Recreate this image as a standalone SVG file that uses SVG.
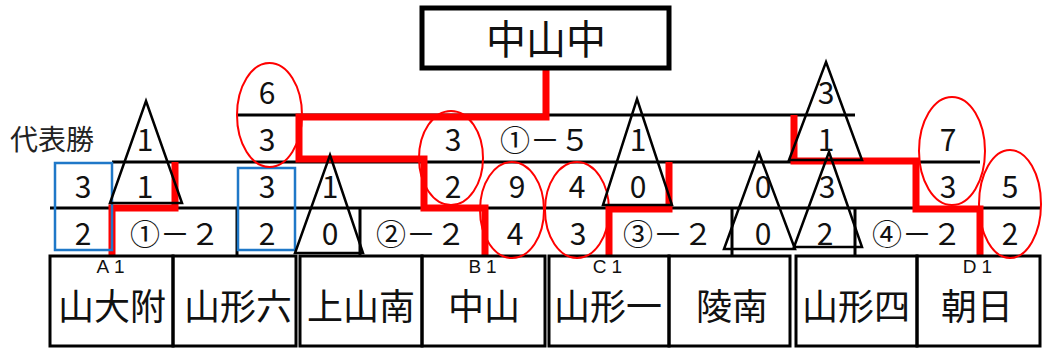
<svg xmlns="http://www.w3.org/2000/svg" width="1043" height="349" viewBox="0 0 1043 349">
<style>
text{font-family:"Noto Sans CJK JP","Liberation Sans",sans-serif;fill:#111;text-anchor:middle}
.n{font-size:30px}
.t{font-size:36px}
.s{font-family:"Liberation Sans",sans-serif;font-size:19px;letter-spacing:5px}
.box{fill:none;stroke:#000;stroke-width:3}
.ln{stroke:#000;stroke-width:3;fill:none}
.red{stroke:#f00;stroke-width:7;fill:none;stroke-linejoin:miter}
.ov{fill:none;stroke:#f00;stroke-width:2}
.tri{fill:none;stroke:#000;stroke-width:2.5;stroke-linejoin:miter}
.bl{fill:none;stroke:#1f78c8;stroke-width:2.5}
</style>
<rect width="1043" height="349" fill="#fff"/>
<g id="connectors">
<path class="ln" d="M238 115H855M112 162H980M50 208H1040M237 208V256M360 208V256M732 208V256M855 208V256"/>
<path class="red" d="M112 256V208H175V162"/>
<path class="red" d="M485 256V208H424V159H299V117H546V68"/>
<path class="red" d="M609 256V209H669V162"/>
<path class="red" d="M980 256V209H916V161H794V115"/>
</g>
<g id="champion">
<rect x="422" y="8" width="247" height="60" fill="none" stroke="#000" stroke-width="5"/>
<text x="546" y="54" style="font-size:40px">中山中</text>
</g>
<g id="label"><text x="52" y="150" style="font-size:28px;fill:#222">代表勝</text></g>
<g id="team-A1"><rect class="box" x="50" y="256" width="123" height="90"/><text class="s" x="113" y="273">A1</text><text class="t" x="112" y="320">山大附</text></g>
<g id="team-2"><rect class="box" x="173" y="256" width="123" height="90"/><text class="t" x="238" y="320">山形六</text></g>
<g id="team-3"><rect class="box" x="300" y="256" width="122" height="90"/><text class="t" x="361" y="320">上山南</text></g>
<g id="team-B1"><rect class="box" x="422" y="256" width="123" height="90"/><text class="s" x="485" y="273">B1</text><text class="t" x="484" y="320">中山</text></g>
<g id="team-C1"><rect class="box" x="549" y="256" width="120" height="90"/><text class="s" x="610" y="273">C1</text><text class="t" x="608" y="320">山形一</text></g>
<g id="team-6"><rect class="box" x="669" y="256" width="121" height="90"/><text class="t" x="732" y="320">陵南</text></g>
<g id="team-7"><rect class="box" x="796" y="256" width="121" height="90"/><text class="t" x="856" y="320">山形四</text></g>
<g id="team-D1"><rect class="box" x="917" y="256" width="123" height="90"/><text class="s" x="980" y="273">D1</text><text class="t" x="977" y="320">朝日</text></g>
<g id="marks">
<rect class="bl" x="55" y="163" width="57" height="87"/>
<rect class="bl" x="238" y="168" width="57" height="82"/>
<ellipse class="ov" cx="269.5" cy="115" rx="32.5" ry="52"/>
<ellipse class="ov" cx="451" cy="158" rx="32" ry="47"/>
<ellipse class="ov" cx="512" cy="210" rx="32" ry="48"/>
<ellipse class="ov" cx="577" cy="210" rx="32" ry="48"/>
<ellipse class="ov" cx="952" cy="151" rx="33" ry="54"/>
<ellipse class="ov" cx="1010" cy="204" rx="31" ry="54"/>
<path class="tri" d="M146 101L182 203H110Z"/>
<path class="tri" d="M330 155L363 253H295Z"/>
<path class="tri" d="M637 99L672 205H603Z"/>
<path class="tri" d="M759 153L795 249H724Z"/>
<path class="tri" d="M829 152L862 247H794Z"/>
<path class="tri" d="M826 62L862 160H789Z"/>
</g>
<g id="scores">
<text class="n" x="83" y="245">2</text>
<text class="n" x="175" y="245">①－２</text>
<text class="n" x="267" y="245">2</text>
<text class="n" x="330" y="245">0</text>
<text class="n" x="421" y="245">②－２</text>
<text class="n" x="515" y="245">4</text>
<text class="n" x="578" y="245">3</text>
<text class="n" x="668" y="245">③－２</text>
<text class="n" x="763" y="245">0</text>
<text class="n" x="825" y="245">2</text>
<text class="n" x="917" y="245">④－２</text>
<text class="n" x="1010" y="245">2</text>
<text class="n" x="83" y="198">3</text>
<text class="n" x="145" y="198">1</text>
<text class="n" x="267" y="198">3</text>
<text class="n" x="330" y="198">1</text>
<text class="n" x="453" y="198">2</text>
<text class="n" x="517" y="198">9</text>
<text class="n" x="577" y="198">4</text>
<text class="n" x="638" y="198">0</text>
<text class="n" x="763" y="198">0</text>
<text class="n" x="827" y="198">3</text>
<text class="n" x="948" y="198">3</text>
<text class="n" x="1010" y="198">5</text>
<text class="n" x="145" y="151">1</text>
<text class="n" x="267" y="151">3</text>
<text class="n" x="453" y="151">3</text>
<text class="n" x="545" y="151">①－５</text>
<text class="n" x="638" y="151">1</text>
<text class="n" x="826" y="151">1</text>
<text class="n" x="948" y="151">7</text>
<text class="n" x="267" y="104">6</text>
<text class="n" x="826" y="104">3</text>
</g>
</svg>
